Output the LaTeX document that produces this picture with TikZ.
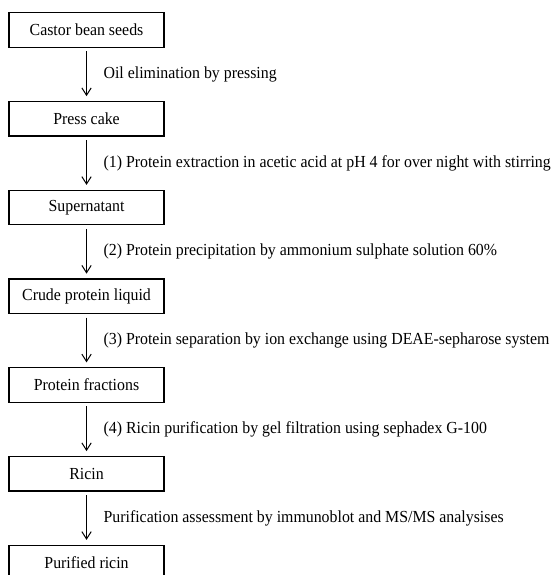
\documentclass[tikz,border=0pt]{standalone}
\usepackage{fontspec}
\setmainfont{Liberation Serif}[FakeStretch=0.94]
\usepackage{tikz}
\usetikzlibrary{arrows.meta,positioning}
\tikzstyle{stage} =[draw, rectangle, line width=0.9pt, minimum width=116.25pt,
                    minimum height=25.9pt, inner sep=0pt, outer sep=0pt]
\tikzstyle{edge}  =[shorten <=3pt, shorten >=4pt, line width=0.75pt,
                    -{Straight Barb[length=5.5pt,width=7pt]}]
\tikzstyle{note}  =[anchor=west, xshift=12.4pt, inner sep=0pt]

\begin{document}
\begin{tikzpicture}[font=\fontsize{12.66}{14}\selectfont, on grid, node distance
        = 66.56pt]
    \useasboundingbox (0,0) rectangle (414.75pt,-431.25pt);
    \node (seeds) [stage] at (64.9pt,-22.5pt) {Castor bean seeds};
    \node (cake) [stage, below= of seeds] {Press cake};
    \node (super) [stage, below= of cake] {Supernatant};
    \node (crude) [stage, below= of super] {Crude protein liquid};
    \node (fract) [stage, below= of crude] {Protein fractions};
    \node (ricin) [stage, below= of fract] {Ricin};
    \node (pure) [stage, below= of ricin] {Purified ricin};
    \draw[edge] (seeds) -- node[note] {Oil elimination by pressing} (cake);
    \draw[edge] (cake) -- node[note] {(1) Protein extraction in acetic acid at
        pH 4 for over night with stirring} (super);
    \draw[edge] (super) -- node[note] {(2) Protein precipitation by ammonium
        sulphate solution 60\%} (crude);
    \draw[edge] (crude) -- node[note] {(3) Protein separation by ion exchange
        using DEAE-sepharose system} (fract);
    \draw[edge] (fract) -- node[note] {(4) Ricin purification by gel
        filtration using sephadex G-100} (ricin);
    \draw[edge] (ricin) -- node[note] {Purification assessment by immunoblot
        and MS/MS analysises} (pure);
\end{tikzpicture}
\end{document}
